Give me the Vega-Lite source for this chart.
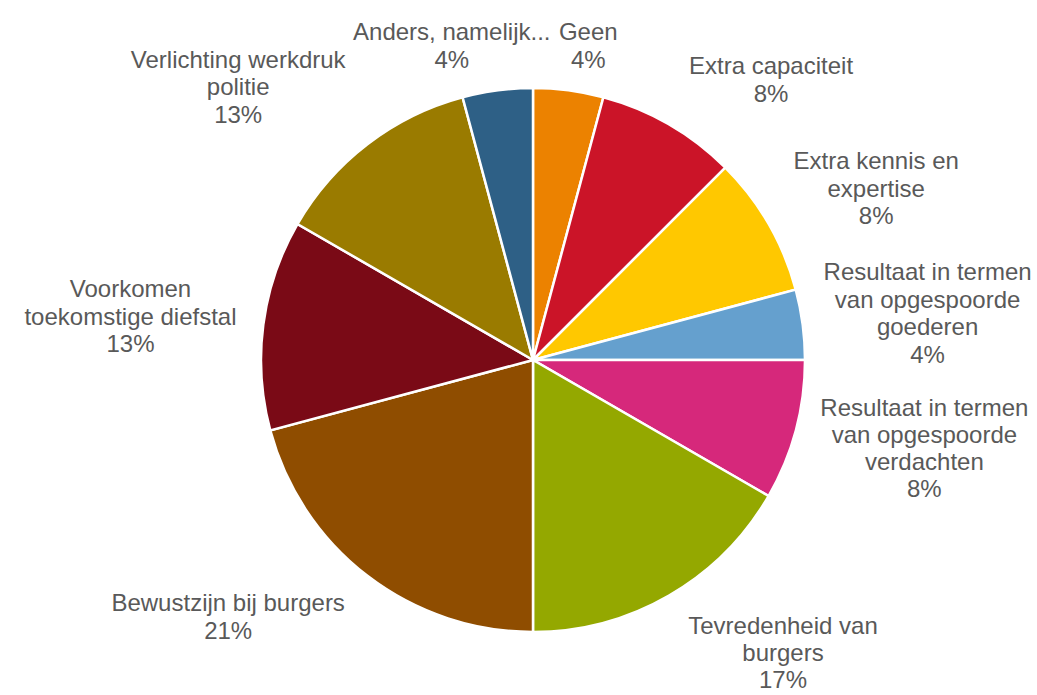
{
  "$schema": "https://vega.github.io/schema/vega-lite/v6.json",
  "width": 1008,
  "height": 670,
  "padding": {"left": 29, "top": 25, "right": 0, "bottom": 0},
  "autosize": {"type": "none"},
  "background": "white",
  "config": {"view": {"stroke": null}},
  "data": {
    "values": [
      {"nr": 1, "categorie": "Geen", "aantal": 1, "label": "Geen\n4%"},
      {"nr": 2, "categorie": "Extra capaciteit", "aantal": 2, "label": "Extra capaciteit\n8%"},
      {"nr": 3, "categorie": "Extra kennis en expertise", "aantal": 2, "label": "Extra kennis en\nexpertise\n8%"},
      {"nr": 4, "categorie": "Resultaat in termen van opgespoorde goederen", "aantal": 1, "label": "Resultaat in termen\nvan opgespoorde\ngoederen\n4%"},
      {"nr": 5, "categorie": "Resultaat in termen van opgespoorde verdachten", "aantal": 2, "label": "Resultaat in termen\nvan opgespoorde\nverdachten\n8%"},
      {"nr": 6, "categorie": "Tevredenheid van burgers", "aantal": 4, "label": "Tevredenheid van\nburgers\n17%"},
      {"nr": 7, "categorie": "Bewustzijn bij burgers", "aantal": 5, "label": "Bewustzijn bij burgers\n21%"},
      {"nr": 8, "categorie": "Voorkomen toekomstige diefstal", "aantal": 3, "label": "Voorkomen\ntoekomstige diefstal\n13%"},
      {"nr": 9, "categorie": "Verlichting werkdruk politie", "aantal": 3, "label": "Verlichting werkdruk\npolitie\n13%"},
      {"nr": 10, "categorie": "Anders, namelijk...", "aantal": 1, "label": "Anders, namelijk...\n4%"}
    ]
  },
  "encoding": {
    "theta": {"field": "aantal", "type": "quantitative", "stack": true},
    "order": {"field": "nr", "type": "quantitative"}
  },
  "layer": [
    {
      "mark": {"type": "arc", "outerRadius": 272, "stroke": "white", "strokeWidth": 2.5},
      "encoding": {
        "color": {
          "field": "categorie",
          "type": "nominal",
          "legend": null,
          "scale": {
            "domain": ["Geen", "Extra capaciteit", "Extra kennis en expertise", "Resultaat in termen van opgespoorde goederen", "Resultaat in termen van opgespoorde verdachten", "Tevredenheid van burgers", "Bewustzijn bij burgers", "Voorkomen toekomstige diefstal", "Verlichting werkdruk politie", "Anders, namelijk..."],
            "range": ["#EC8200", "#CB1428", "#FFC800", "#65A0CE", "#D6287B", "#94A800", "#8F4D00", "#7A0A16", "#9A7B00", "#2E6086"]
          }
        }
      }
    },
    {
      "mark": {"type": "text", "radius": 316, "dx": 14, "dy": -14, "fontSize": 24, "font": "Liberation Sans", "color": "#595959", "lineBreak": "\n", "lineHeight": 28, "align": "center", "baseline": "middle"},
      "encoding": {"text": {"condition": {"test": "datum.categorie === 'Geen'", "field": "label", "type": "nominal"}, "value": ""}}
    },
    {
      "mark": {"type": "text", "radius": 322, "dx": 77, "dy": -14, "fontSize": 24, "font": "Liberation Sans", "color": "#595959", "lineBreak": "\n", "lineHeight": 28, "align": "center", "baseline": "middle"},
      "encoding": {"text": {"condition": {"test": "datum.categorie === 'Extra capaciteit'", "field": "label", "type": "nominal"}, "value": ""}}
    },
    {
      "mark": {"type": "text", "radius": 342, "dx": 47, "dy": -27, "fontSize": 24, "font": "Liberation Sans", "color": "#595959", "lineBreak": "\n", "lineHeight": 27.5, "align": "center", "baseline": "middle"},
      "encoding": {"text": {"condition": {"test": "datum.categorie === 'Extra kennis en expertise'", "field": "label", "type": "nominal"}, "value": ""}}
    },
    {
      "mark": {"type": "text", "radius": 398, "dx": 0, "dy": -35, "fontSize": 24, "font": "Liberation Sans", "color": "#595959", "lineBreak": "\n", "lineHeight": 27.5, "align": "center", "baseline": "middle"},
      "encoding": {"text": {"condition": {"test": "datum.categorie === 'Resultaat in termen van opgespoorde goederen'", "field": "label", "type": "nominal"}, "value": ""}}
    },
    {
      "mark": {"type": "text", "radius": 400, "dx": 5, "dy": -55, "fontSize": 24, "font": "Liberation Sans", "color": "#595959", "lineBreak": "\n", "lineHeight": 27.2, "align": "center", "baseline": "middle"},
      "encoding": {"text": {"condition": {"test": "datum.categorie === 'Resultaat in termen van opgespoorde verdachten'", "field": "label", "type": "nominal"}, "value": ""}}
    },
    {
      "mark": {"type": "text", "radius": 340, "dx": 80, "dy": -27, "fontSize": 24, "font": "Liberation Sans", "color": "#595959", "lineBreak": "\n", "lineHeight": 27, "align": "center", "baseline": "middle"},
      "encoding": {"text": {"condition": {"test": "datum.categorie === 'Tevredenheid van burgers'", "field": "label", "type": "nominal"}, "value": ""}}
    },
    {
      "mark": {"type": "text", "radius": 325, "dx": -107, "dy": -14, "fontSize": 24, "font": "Liberation Sans", "color": "#595959", "lineBreak": "\n", "lineHeight": 28, "align": "center", "baseline": "middle"},
      "encoding": {"text": {"condition": {"test": "datum.categorie === 'Bewustzijn bij burgers'", "field": "label", "type": "nominal"}, "value": ""}}
    },
    {
      "mark": {"type": "text", "radius": 406, "dx": 0, "dy": -17, "fontSize": 24, "font": "Liberation Sans", "color": "#595959", "lineBreak": "\n", "lineHeight": 27.5, "align": "center", "baseline": "middle"},
      "encoding": {"text": {"condition": {"test": "datum.categorie === 'Voorkomen toekomstige diefstal'", "field": "label", "type": "nominal"}, "value": ""}}
    },
    {
      "mark": {"type": "text", "radius": 343, "dx": -86, "dy": -27, "fontSize": 24, "font": "Liberation Sans", "color": "#595959", "lineBreak": "\n", "lineHeight": 27.5, "align": "center", "baseline": "middle"},
      "encoding": {"text": {"condition": {"test": "datum.categorie === 'Verlichting werkdruk politie'", "field": "label", "type": "nominal"}, "value": ""}}
    },
    {
      "mark": {"type": "text", "radius": 316, "dx": -40, "dy": -14, "fontSize": 24, "font": "Liberation Sans", "color": "#595959", "lineBreak": "\n", "lineHeight": 28, "align": "center", "baseline": "middle"},
      "encoding": {"text": {"condition": {"test": "datum.categorie === 'Anders, namelijk...'", "field": "label", "type": "nominal"}, "value": ""}}
    }
  ]
}
